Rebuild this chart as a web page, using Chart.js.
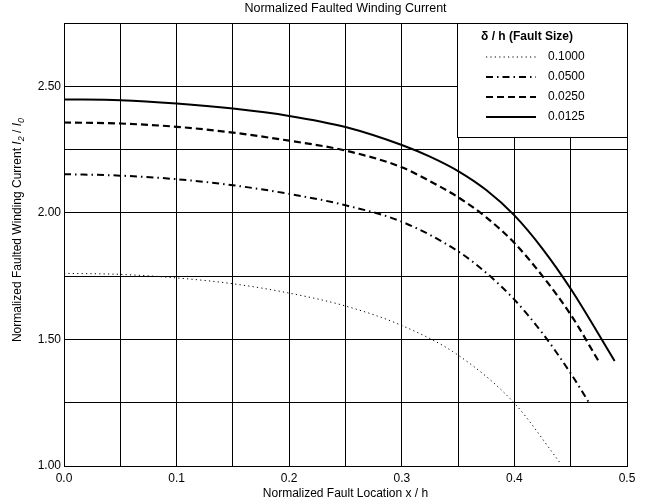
<!DOCTYPE html>
<html>
<head>
<meta charset="utf-8">
<script src="https://cdn.jsdelivr.net/npm/chart.js@4.4.0/dist/chart.umd.min.js"></script>
<style>
  html, body { margin: 0; padding: 0; background: #fff; }
  #wrap { width: 659px; height: 503px; }
</style>
</head>
<body>
<div id="wrap"><canvas id="chart"></canvas></div>
<script>
// fault sizes (delta / h)
const faultSizes = ['0.1000', '0.0500', '0.0250', '0.0125'];

// fault location x / h and normalized current
const x1000 = [0, 0.05, 0.1, 0.15, 0.2, 0.25, 0.3, 0.35, 0.4, 0.441];
const y1000 = [1.761, 1.757, 1.743, 1.720, 1.683, 1.632, 1.555, 1.438, 1.248, 1.010];

const x0500 = [0, 0.05, 0.1, 0.15, 0.2, 0.25, 0.3, 0.35, 0.375, 0.4, 0.425, 0.45, 0.467];
const y0500 = [2.153, 2.147, 2.133, 2.109, 2.075, 2.030, 1.965, 1.848, 1.763, 1.657, 1.524, 1.366, 1.245];

const x0250 = [0, 0.05, 0.1, 0.15, 0.2, 0.25, 0.3, 0.325, 0.35, 0.375, 0.4, 0.425, 0.45, 0.476];
const y0250 = [2.357, 2.353, 2.340, 2.317, 2.285, 2.246, 2.180, 2.125, 2.062, 1.982, 1.881, 1.750, 1.598, 1.405];

const x0125 = [0, 0.05, 0.1, 0.15, 0.2, 0.25, 0.3, 0.325, 0.35, 0.375, 0.4, 0.425, 0.45, 0.489];
const y0125 = [2.448, 2.445, 2.432, 2.412, 2.383, 2.339, 2.268, 2.222, 2.165, 2.090, 1.990, 1.858, 1.700, 1.415];

const xTickLabels = ['0.0', '0.1', '0.2', '0.3', '0.4', '0.5'];
const yTickLabels = ['1.00', '1.50', '2.00', '2.50'];

const FONT = '"Liberation Sans", Arial, Helvetica, sans-serif';

function pts(xs, ys) {
  return xs.map((x, i) => ({ x: x, y: ys[i] }));
}

// legend in a white box at the top right of the plot
const boxLegend = {
  id: 'boxLegend',
  afterDatasetsDraw(chart) {
    const { ctx, chartArea } = chart;
    const w = 170, h = 114;
    const left = Math.round(chartArea.right - w), top = Math.round(chartArea.top);
    ctx.save();
    ctx.fillStyle = '#fff';
    ctx.fillRect(left, top, w, h);
    ctx.strokeStyle = '#000';
    ctx.lineWidth = 1;
    ctx.strokeRect(left + 0.5, top + 0.5, w, h);
    ctx.fillStyle = '#000';
    ctx.textBaseline = 'middle';
    ctx.textAlign = 'center';
    ctx.font = 'bold 12px ' + FONT;
    ctx.fillText('δ / h (Fault Size)', left + 70, top + 14);
    ctx.textAlign = 'left';
    ctx.font = '12px ' + FONT;
    chart.data.datasets.forEach((ds, i) => {
      const y = top + 34 + i * 20;
      ctx.beginPath();
      ctx.setLineDash(ds.borderDash || []);
      ctx.lineWidth = ds.borderWidth;
      ctx.strokeStyle = ds.borderColor;
      ctx.moveTo(left + 29, y);
      ctx.lineTo(left + 79, y);
      ctx.stroke();
      ctx.setLineDash([]);
      ctx.fillText(ds.label, left + 91, y);
    });
    ctx.restore();
  }
};

// y axis title with italic I and subscripts
const yTitle = {
  id: 'yTitle',
  afterDraw(chart) {
    const ctx = chart.ctx;
    const parts = [
      { t: 'Normalized Faulted Winding Current ', f: '12px ' + FONT, dy: 0 },
      { t: 'I', f: 'italic 12px ' + FONT, dy: 0 },
      { t: '2', f: 'italic 9px ' + FONT, dy: 3 },
      { t: ' / ', f: '12px ' + FONT, dy: 0 },
      { t: 'I', f: 'italic 12px ' + FONT, dy: 0 },
      { t: '0', f: 'italic 9px ' + FONT, dy: 3 }
    ];
    ctx.save();
    let total = 0;
    parts.forEach(p => { ctx.font = p.f; p.w = ctx.measureText(p.t).width; total += p.w; });
    ctx.translate(18, 230);
    ctx.rotate(-Math.PI / 2);
    ctx.fillStyle = '#000';
    ctx.textBaseline = 'middle';
    ctx.textAlign = 'left';
    let x = -total / 2;
    parts.forEach(p => {
      ctx.font = p.f;
      ctx.fillText(p.t, x, p.dy);
      x += p.w;
    });
    ctx.restore();
  }
};

new Chart(document.getElementById('chart'), {
  type: 'line',
  data: {
    datasets: [
      {
        label: faultSizes[0],
        data: pts(x1000, y1000),
        borderColor: '#000',
        borderWidth: 1,
        borderDash: [1.2, 3.2]
      },
      {
        label: faultSizes[1],
        data: pts(x0500, y0500),
        borderColor: '#000',
        borderWidth: 2,
        borderDash: [7, 4, 1.5, 4]
      },
      {
        label: faultSizes[2],
        data: pts(x0250, y0250),
        borderColor: '#000',
        borderWidth: 2.2,
        borderDash: [7, 4]
      },
      {
        label: faultSizes[3],
        data: pts(x0125, y0125),
        borderColor: '#000',
        borderWidth: 2,
        borderDash: []
      }
    ]
  },
  options: {
    responsive: true,
    maintainAspectRatio: false,
    animation: false,
    layout: { padding: { left: 0, right: 32, top: 0, bottom: 0 } },
    elements: {
      point: { radius: 0 },
      line: { cubicInterpolationMode: 'monotone', fill: false }
    },
    plugins: {
      legend: { display: false },
      tooltip: { enabled: false },
      title: {
        display: true,
        text: 'Normalized Faulted Winding Current',
        fullSize: false,
        color: '#000',
        font: { family: FONT, size: 12.5, weight: 'normal' },
        padding: { top: 1, bottom: 7 }
      }
    },
    scales: {
      x: {
        type: 'linear',
        min: 0,
        max: 0.5,
        afterFit: (s) => { s.height = 37; },
        grid: { color: '#000', lineWidth: 1, drawTicks: false },
        border: { color: '#000', width: 1 },
        ticks: {
          stepSize: 0.05,
          padding: 5,
          color: '#000',
          font: { family: FONT, size: 12 },
          maxRotation: 0,
          autoSkip: false,
          callback: (v) => xTickLabels.find(l => Math.abs(parseFloat(l) - v) < 1e-6) || ''
        },
        title: {
          display: true,
          text: 'Normalized Fault Location x / h',
          color: '#000',
          font: { family: FONT, size: 12 },
          padding: { top: 0, bottom: 2 }
        }
      },
      y: {
        min: 1,
        max: 2.75,
        afterFit: (s) => { s.width = 64; },
        grid: { color: '#000', lineWidth: 1, drawTicks: false },
        border: { color: '#000', width: 1 },
        ticks: {
          stepSize: 0.25,
          padding: 3,
          color: '#000',
          font: { family: FONT, size: 12 },
          autoSkip: false,
          callback: (v) => yTickLabels.find(l => Math.abs(parseFloat(l) - v) < 1e-6) || ''
        }
      }
    }
  },
  plugins: [boxLegend, yTitle]
});
</script>
</body>
</html>
